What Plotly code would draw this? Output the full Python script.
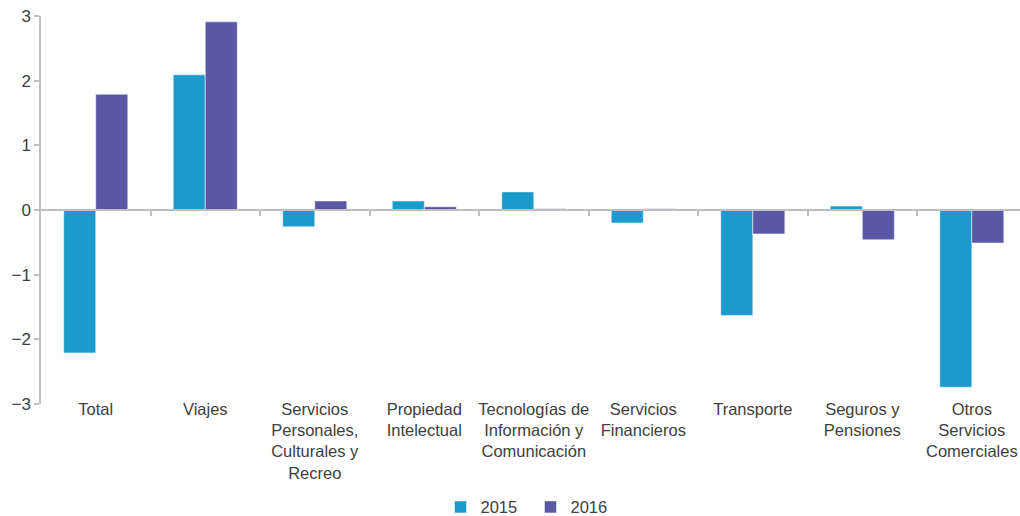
import plotly.graph_objects as go

categories = ["Total", "Viajes", "Servicios<br>Personales,<br>Culturales y<br>Recreo",
              "Propiedad<br>Intelectual", "Tecnologías de<br>Información y<br>Comunicación",
              "Servicios<br>Financieros", "Transporte", "Seguros y<br>Pensiones",
              "Otros<br>Servicios<br>Comerciales"]
values_2015 = [-2.21, 2.09, -0.26, 0.14, 0.28, -0.20, -1.63, 0.06, -2.74]
values_2016 = [1.79, 2.91, 0.14, 0.05, 0.02, 0.02, -0.37, -0.46, -0.51]
y_ticks = [-3, -2, -1, 0, 1, 2, 3]

c2015 = "#1b9bcd"
c2016 = "#5a58a6"
font_fam = "Liberation Sans, Arial, sans-serif"

x_idx = list(range(len(categories)))

fig = go.Figure()
fig.add_trace(go.Bar(x=x_idx, y=values_2015, name="2015", marker_color=c2015,
                     marker_line=dict(color="rgba(255,255,255,0.5)", width=1)))
fig.add_trace(go.Bar(x=x_idx, y=values_2016, name="2016", marker_color=c2016,
                     marker_line=dict(color="rgba(255,255,255,0.5)", width=1)))

fig.update_layout(
    width=1020, height=516,
    margin=dict(l=41, r=0, t=16, b=112, autoexpand=False),
    paper_bgcolor="white", plot_bgcolor="white",
    barmode="group", bargap=0.415, bargroupgap=0,
    font=dict(family=font_fam, size=16.5, color="#404040"),
    showlegend=True,
    legend=dict(orientation="h", x=0.5, xanchor="center", y=-0.266, yanchor="middle",
                font=dict(size=16.5, color="#404040"), itemwidth=30,
                entrywidth=45, traceorder="normal"),
    xaxis=dict(range=[-0.5, 8.44], tickvals=x_idx, ticktext=categories,
               showline=False, showgrid=False, zeroline=False, ticks="",
               ticklabelstandoff=-7,
               tickfont=dict(size=16.5, color="#404040"), tickangle=0, automargin=False),
    xaxis2=dict(range=[-0.5, 8.44], overlaying="x", anchor="free", position=0.5,
                side="bottom", showline=True, linecolor="#bfbfbf", linewidth=1.5,
                tickvals=[i + 0.5 for i in x_idx[:-1]], ticks="outside", ticklen=5,
                tickcolor="#bfbfbf", tickwidth=1.5, showticklabels=False, showgrid=False,
                zeroline=False, automargin=False),
    yaxis=dict(range=[-3, 3], tickvals=y_ticks, showgrid=False, zeroline=False,
               showline=True, linecolor="#bfbfbf", linewidth=1.5, ticks="outside",
               ticklen=5, tickcolor="#bfbfbf", tickwidth=1.5, automargin=False,
               tickfont=dict(size=17, color="#404040")),
)
# invisible helper trace to activate the zero-line axis (xaxis2)
fig.add_trace(go.Scatter(x=[0], y=[0], xaxis="x2", mode="markers",
                         marker=dict(opacity=0), showlegend=False, hoverinfo="skip"))

fig.write_html("out.html", config={"displayModeBar": False},
               post_script="document.body.style.margin='0';"
                           "document.documentElement.style.overflow='hidden';")
